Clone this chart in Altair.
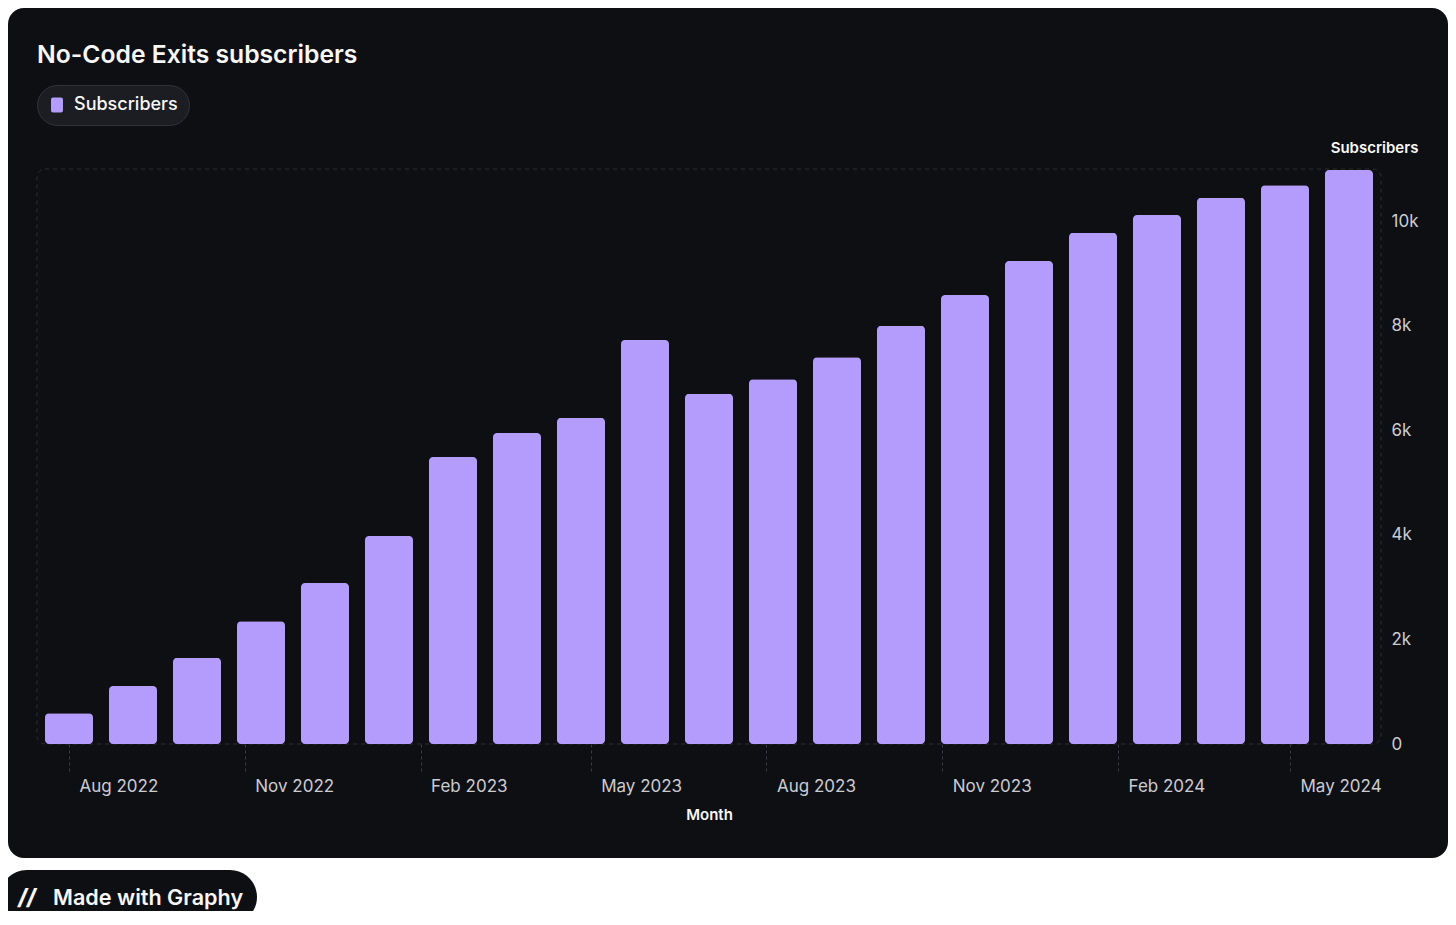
import altair as alt
import pandas as pd

# ---- data ----
months = ["2022-08", "2022-09", "2022-10", "2022-11", "2022-12", "2023-01", "2023-02",
          "2023-03", "2023-04", "2023-05", "2023-06", "2023-07", "2023-08", "2023-09",
          "2023-10", "2023-11", "2023-12", "2024-01", "2024-02", "2024-03", "2024-04"]
subscribers = [590, 1110, 1650, 2350, 3080, 3980, 5490, 5950, 6240, 7730, 6700,
               6980, 7400, 8000, 8590, 9240, 9780, 10120, 10450, 10690, 10980]
tick_dates = ["2022-08-01", "2022-11-01", "2023-02-01", "2023-05-01",
              "2023-08-01", "2023-11-01", "2024-02-01", "2024-05-01"]
y_ticks = [0, 2000, 4000, 6000, 8000, 10000]
series_name = "Subscribers"
title_text = ["No-Code Exits subscribers"]
badge_text = ["Made with Graphy"]
badge_icon = ["//"]

# ---- styling ----
BG = "#0e0f13"
BAR = "#b49cfc"
BORDER = "#2c2e33"
LABEL = "#cbccd2"
WHITE = "#f7f7f8"
FONT = "Inter"

W, H = 1344, 575

df = pd.DataFrame({"month": months, "subscribers": subscribers})
one = pd.DataFrame({"k": [0]})

card = alt.Chart(one).mark_rect(fill=BG, cornerRadius=16).encode(
    x=alt.value(-29), x2=alt.value(1411), y=alt.value(-161), y2=alt.value(689)
)

title_mark = alt.Chart(pd.DataFrame({"label": title_text})).mark_text(
    align="left", baseline="alphabetic", fontSize=24.7, fontWeight=600, color=WHITE, font=FONT
).encode(text="label:N", x=alt.value(0), y=alt.value(-106))

border = alt.Chart(one).mark_rect(
    fill="transparent", stroke=BORDER, strokeWidth=1, strokeDash=[4, 4], cornerRadius=8
).encode(x=alt.value(0), x2=alt.value(W), y=alt.value(0), y2=alt.value(H))

legend_symbol = ("M-0.53,-1 H0.53 A0.27,0.27 0 0 1 0.8,-0.73 V0.73 A0.27,0.27 0 0 1 0.53,1 "
                 "H-0.53 A0.27,0.27 0 0 1 -0.8,0.73 V-0.73 A0.27,0.27 0 0 1 -0.53,-1 Z")

bars = alt.Chart(df).transform_calculate(series=f"'{series_name}'").mark_bar(
    cornerRadius=4
).encode(
    x=alt.X("month:O", sort=None,
            scale=alt.Scale(paddingInner=0.25, paddingOuter=0.125), axis=None),
    y=alt.Y("subscribers:Q",
            scale=alt.Scale(domain=[0, 11000], nice=False),
            axis=alt.Axis(orient="right", values=y_ticks,
                          labelExpr="datum.value == 0 ? '0' : format(datum.value / 1000, 'd') + 'k'",
                          ticks=False, domain=False, grid=False,
                          labelPadding=10, labelFontSize=17, labelColor=LABEL,
                          labelFont=FONT,
                          title="Subscribers", titleAngle=0, titleX=-7, titleY=-22,
                          titleAlign="center", titleBaseline="middle",
                          titleFontSize=15, titleFontWeight=600, titleColor=WHITE,
                          titleFont=FONT, zindex=1)),
    color=alt.Color("series:N",
                    scale=alt.Scale(domain=[series_name], range=[BAR]),
                    legend=alt.Legend(orient="none", legendX=0, legendY=-84,
                                      direction="horizontal", title=None,
                                      symbolType=legend_symbol, symbolSize=225,
                                      symbolStrokeWidth=0, symbolOpacity=1,
                                      labelFontSize=18, labelColor=WHITE,
                                      labelFont=FONT, labelFontWeight=500,
                                      labelOffset=8, padding=11, cornerRadius=20,
                                      fillColor="#1b1d22", strokeColor="#303238",
                                      zindex=1)),
)

tick_df = pd.DataFrame({"tick": tick_dates})
time_axis = alt.Chart(tick_df).mark_point(opacity=0).encode(
    x=alt.X("tick:T",
            scale=alt.Scale(type="utc",
                            domain=[alt.DateTime(year=2022, month=7, date=15, hours=6, utc=True),
                                    alt.DateTime(year=2024, month=6, date=17, hours=15, utc=True)]),
            axis=alt.Axis(values=[alt.DateTime(year=int(d[:4]), month=int(d[5:7]), date=1, utc=True)
                                  for d in tick_dates],
                          format="%b %Y", labelAlign="left", labelOffset=10,
                          labelFlush=False, labelBaseline="top",
                          tickSize=28, tickDash=[3, 3], tickColor="#3a3c42",
                          domain=False, grid=False, labelPadding=6,
                          labelFontSize=17, labelColor=LABEL, labelFont=FONT,
                          title="Month", titleFontSize=15, titleFontWeight=600,
                          titleColor=WHITE, titleFont=FONT, titlePadding=13,
                          zindex=1))
)

badge_bg = alt.Chart(one).mark_rect(fill=BG, cornerRadius=27).encode(
    x=alt.value(-37), x2=alt.value(220), y=alt.value(701), y2=alt.value(755)
)
badge_icon_mark = alt.Chart(pd.DataFrame({"label": badge_icon})).mark_text(
    align="center", baseline="alphabetic", fontSize=22, fontWeight=800, fontStyle="italic",
    color=WHITE, font=FONT
).encode(text="label:N", x=alt.value(-10), y=alt.value(736))
badge_label = alt.Chart(pd.DataFrame({"label": badge_text})).mark_text(
    align="left", baseline="alphabetic", fontSize=21.6, fontWeight=600, color=WHITE, font=FONT
).encode(text="label:N", x=alt.value(16), y=alt.value(736))

chart = alt.layer(
    card, title_mark, border, bars, time_axis, badge_bg, badge_icon_mark, badge_label
).resolve_scale(
    x="independent"
).properties(
    width=W, height=H,
    autosize=alt.AutoSizeParams(type="none"),
    padding={"left": 29, "top": 161, "right": 67, "bottom": 167},
    background="#ffffff",
).configure_view(stroke="transparent").configure(font=FONT)

chart.save("out.html", embed_options={"renderer": "svg", "actions": False})
